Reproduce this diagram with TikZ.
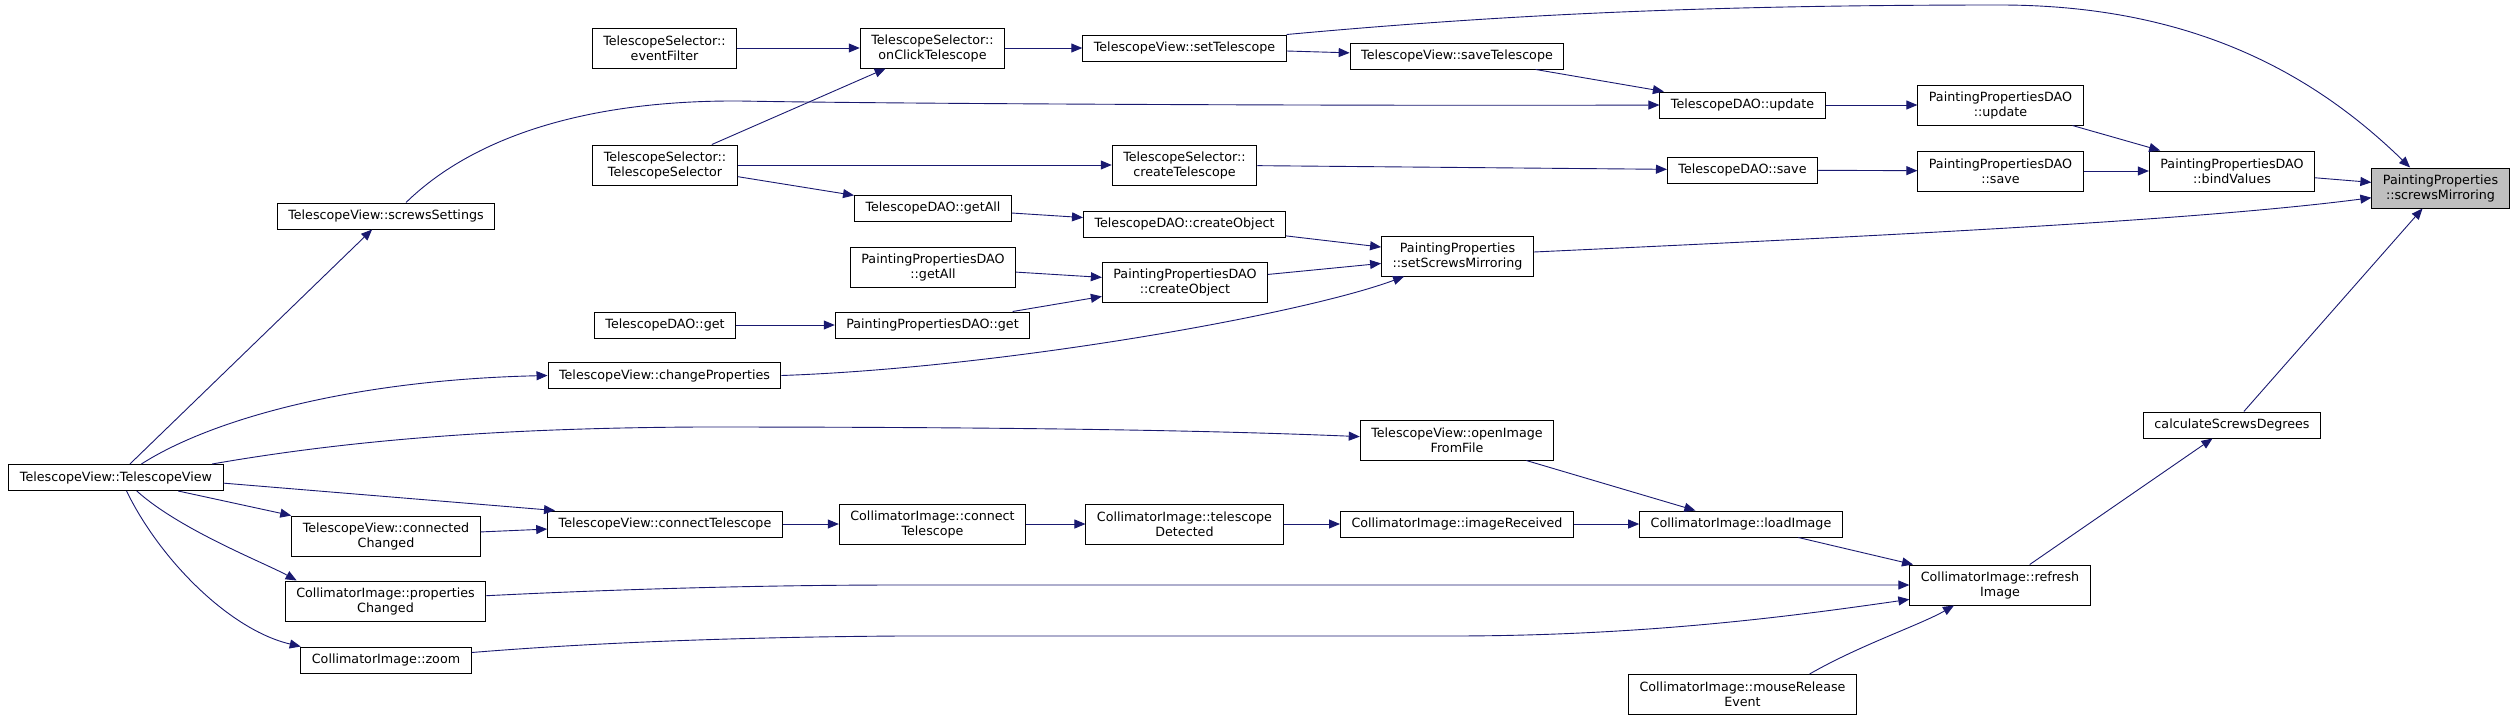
\documentclass[tikz,border=0pt]{standalone}
\usepackage{fontspec}
\setmainfont{DejaVu Sans}
\usepackage{tikz}
\usetikzlibrary{arrows.meta}
\usepackage{xcolor}
\definecolor{edgeblue}{RGB}{25, 25, 112}
\definecolor{rootgray}{RGB}{191, 191, 191}
\tikzset{
  fn/.style={draw=black, line width=1pt, fill=white, align=center, inner xsep=11pt,
    inner ysep=3pt, minimum height=26pt, font=\fontsize{12.7}{15}\selectfont},
  fn2/.style={fn, minimum height=40pt},
  call/.style={->, edgeblue, line width=0.9pt}
}

\begin{document}
\begin{tikzpicture}[x=1pt, y=-1pt, >={Triangle[length=11pt, width=9pt]}]
    \useasboundingbox (0,0) rectangle (2516,721);
    % functions, right to left
    \node[fn2, fill=rootgray] (screwsMirroring) at (2440.5,188) {PaintingProperties\\::screwsMirroring};
    \node[fn2] (bindValues) at (2232,171) {PaintingPropertiesDAO\\::bindValues};
    \node[fn] (calcDegrees) at (2232,425) {calculateScrewsDegrees};
    \node[fn2] (ppUpdate) at (2000.5,105) {PaintingPropertiesDAO\\::update};
    \node[fn2] (ppSave) at (2000.5,171) {PaintingPropertiesDAO\\::save};
    \node[fn2] (refreshImage) at (2000,585) {CollimatorImage::refresh\\Image};
    \node[fn] (tdUpdate) at (1742.5,105) {TelescopeDAO::update};
    \node[fn] (tdSave) at (1742.5,170) {TelescopeDAO::save};
    \node[fn] (loadImage) at (1741,524) {CollimatorImage::loadImage};
    \node[fn2] (mouseRelease) at (1742.5,694.5) {CollimatorImage::mouseRelease\\Event};
    \node[fn2] (setMirroring) at (1457.5,256) {PaintingProperties\\::setScrewsMirroring};
    \node[fn] (saveTelescope) at (1457,56) {TelescopeView::saveTelescope};
    \node[fn2] (openImage) at (1457,440) {TelescopeView::openImage\\FromFile};
    \node[fn] (imageReceived) at (1457,524) {CollimatorImage::imageReceived};
    \node[fn] (setTelescope) at (1184.5,48) {TelescopeView::setTelescope};
    \node[fn2] (createTelescope) at (1184.5,165) {TelescopeSelector::\\createTelescope};
    \node[fn] (tdCreate) at (1184.5,224) {TelescopeDAO::createObject};
    \node[fn2] (ppCreate) at (1185,282.5) {PaintingPropertiesDAO\\::createObject};
    \node[fn2] (telDetected) at (1184.5,524) {CollimatorImage::telescope\\Detected};
    \node[fn2] (onClick) at (932.5,48) {TelescopeSelector::\\onClickTelescope};
    \node[fn] (tdGetAll) at (933,208) {TelescopeDAO::getAll};
    \node[fn2] (ppGetAll) at (933,267) {PaintingPropertiesDAO\\::getAll};
    \node[fn] (ppGet) at (932.5,325) {PaintingPropertiesDAO::get};
    \node[fn2] (ciConnect) at (932.5,524) {CollimatorImage::connect\\Telescope};
    \node[fn2] (eventFilter) at (664.5,48) {TelescopeSelector::\\eventFilter};
    \node[fn2] (selCtor) at (665,165) {TelescopeSelector::\\TelescopeSelector};
    \node[fn] (tdGet) at (665,325) {TelescopeDAO::get};
    \node[fn] (changeProps) at (664.5,375.5) {TelescopeView::changeProperties};
    \node[fn] (tvConnect) at (665,524) {TelescopeView::connectTelescope};
    \node[fn] (screwsSettings) at (386,216) {TelescopeView::screwsSettings};
    \node[fn2] (connChanged) at (386,536) {TelescopeView::connected\\Changed};
    \node[fn2] (propsChanged) at (385.5,601) {CollimatorImage::properties\\Changed};
    \node[fn] (zoomFn) at (386,660) {CollimatorImage::zoom};
    \node[fn] (tvCtor) at (116,477.5) {TelescopeView::TelescopeView};

    % calls into screwsMirroring
    \draw[call] (bindValues) -- (screwsMirroring);
    \draw[call] (setMirroring.3) .. controls (1900,235) and (2200,220) .. (screwsMirroring.188);
    \draw[call] (setTelescope.north east) .. controls (1500,15) and (1700,5) .. (2000,5)
      .. controls (2200,5) and (2320,80) .. (screwsMirroring.146);
    \draw[call] (calcDegrees) -- (screwsMirroring);
    \draw[call] (ppUpdate) -- (bindValues);
    \draw[call] (ppSave) -- (bindValues);
    \draw[call] (tdUpdate) -- (ppUpdate);
    \draw[call] (tdSave) -- (ppSave);
    \draw[call] (saveTelescope) -- (tdUpdate);
    \draw[call] (screwsSettings.34) .. controls (470,140) and (580,100) .. (740,101)
      .. controls (900,104) and (1400,106) .. (tdUpdate.west);
    \draw[call] (createTelescope) -- (tdSave);
    \draw[call] (tdCreate) -- (setMirroring);
    \draw[call] (ppCreate) -- (setMirroring);
    \draw[call] (changeProps.east) .. controls (1000,368) and (1300,315) .. (setMirroring.201);
    \draw[call] (refreshImage) -- (calcDegrees);
    \draw[call] (loadImage) -- (refreshImage);
    \draw[call] (propsChanged.3) .. controls (600,590) and (750,585) .. (900,585) -- (refreshImage.west);
    \draw[call] (zoomFn.5) .. controls (600,642) and (750,637) .. (900,636) -- (1450,636)
      .. controls (1650,636) and (1800,615) .. (refreshImage.189);
    \draw[call] (mouseRelease.17) .. controls (1860,645) and (1920,625) .. (refreshImage.204);
    % selector and dao chains
    \draw[call] (onClick) -- (setTelescope);
    \draw[call] (setTelescope) -- (saveTelescope);
    \draw[call] (eventFilter) -- (onClick);
    \draw[call] (selCtor) -- (onClick);
    \draw[call] (selCtor) -- (createTelescope);
    \draw[call] (selCtor) -- (tdGetAll);
    \draw[call] (tdGetAll) -- (tdCreate);
    \draw[call] (ppGetAll) -- (ppCreate);
    \draw[call] (ppGet) -- (ppCreate);
    \draw[call] (tdGet) -- (ppGet);
    % image chain
    \draw[call] (openImage) -- (loadImage);
    \draw[call] (imageReceived) -- (loadImage);
    \draw[call] (telDetected) -- (imageReceived);
    \draw[call] (ciConnect) -- (telDetected);
    \draw[call] (tvConnect) -- (ciConnect);
    \draw[call] (connChanged) -- (tvConnect);
    % from the constructor
    \draw[call] (tvCtor) -- (screwsSettings);
    \draw[call] (tvCtor.28) .. controls (210,420) and (350,380) .. (changeProps.west);
    \draw[call] (tvCtor.8) .. controls (350,440) and (500,428) .. (700,427)
      .. controls (1000,427) and (1200,430) .. (openImage.178);
    \draw[call] (tvCtor.357) -- (tvConnect.173);
    \draw[call] (tvCtor) -- (connChanged);
    \draw[call] (tvCtor.327) .. controls (180,530) and (265,563) .. (propsChanged.167);
    \draw[call] (tvCtor.308) .. controls (160,560) and (230,630) .. (zoomFn.171);
  \end{tikzpicture}
\end{document}
